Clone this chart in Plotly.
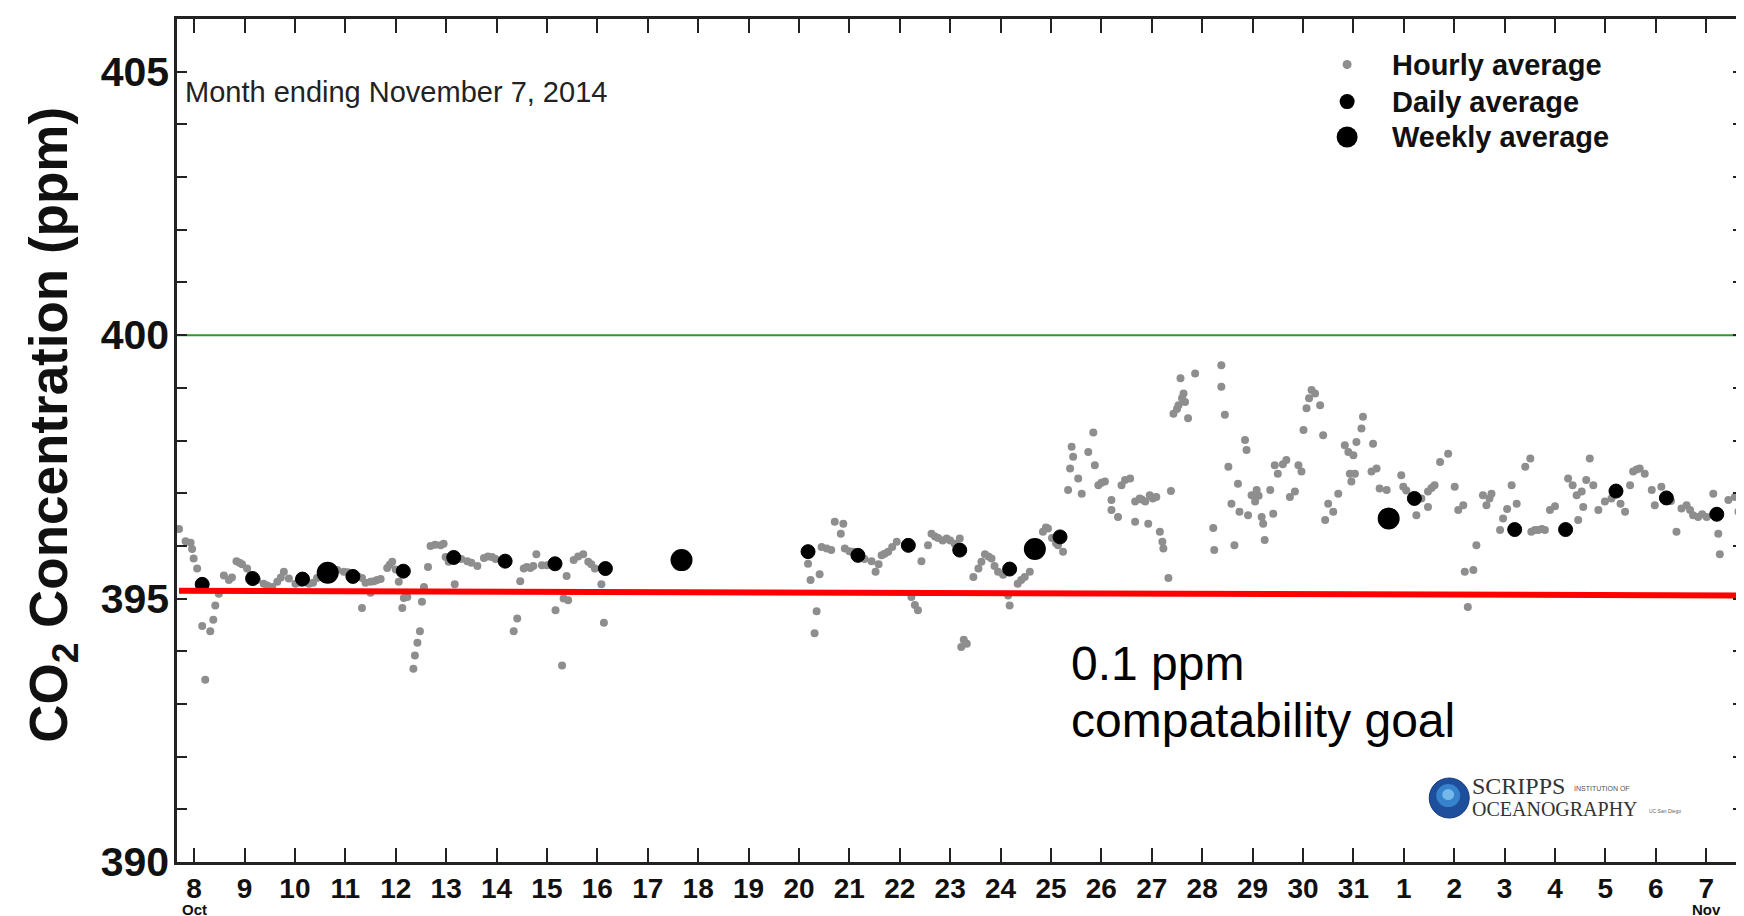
import plotly.graph_objects as go

# ---------------- data (days since Oct 8, 2014 00:00) ----------------
hourly_day = [
    -0.30, -0.17, -0.07, -0.04, -0.01, 0.06, 0.16, 0.22, 0.32, 0.38, 0.42, 0.49, 0.59, 0.69, 0.75,
    0.84, 0.90, 0.95, 1.05, 1.12, 1.25, 1.38, 1.45, 1.55, 1.65, 1.72, 1.78, 1.88, 2.01, 2.12,
    2.20, 2.28, 2.36, 2.44, 2.52, 2.60, 2.70, 2.77, 2.84, 2.97, 3.05, 3.18, 3.25, 3.33, 3.33,
    3.40, 3.50, 3.50, 3.57, 3.63, 3.70, 3.83, 3.88, 3.93, 4.00, 4.06, 4.13, 4.16, 4.23, 4.35,
    4.38, 4.43, 4.48, 4.52, 4.56, 4.64, 4.69, 4.78, 4.89, 4.95, 4.99, 5.05, 5.17, 5.30, 5.42,
    5.50, 5.62, 5.75, 5.83, 5.91, 5.98, 6.34, 6.41, 6.47, 6.54, 6.60, 6.67, 6.73, 6.79, 6.90,
    7.00, 7.08, 7.17, 7.30, 7.33, 7.39, 7.42, 7.53, 7.62, 7.72, 7.82, 7.88, 7.95, 8.08, 8.13,
    12.18, 12.23, 12.31, 12.35, 12.41, 12.45, 12.55, 12.64, 12.71, 12.83, 12.88, 12.91, 13.00, 13.07, 13.20,
    13.30, 13.44, 13.52, 13.58, 13.64, 13.70, 13.77, 13.85, 13.94, 14.23, 14.30, 14.36, 14.43, 14.56, 14.63,
    14.70, 14.76, 14.85, 14.93, 15.00, 15.09, 15.19, 15.22, 15.27, 15.33, 15.46, 15.56, 15.62, 15.69, 15.76,
    15.82, 15.88, 15.95, 16.05, 16.15, 16.18, 16.34, 16.41, 16.48, 16.58, 16.84, 16.90, 16.94, 17.02, 17.10,
    17.14, 17.24, 17.34, 17.38, 17.41, 17.44, 17.54, 17.61, 17.74, 17.84, 17.87, 17.94, 18.00, 18.07, 18.20,
    18.20, 18.33, 18.40, 18.47, 18.57, 18.67, 18.67, 18.76, 18.80, 18.87, 18.93, 18.96, 19.02, 19.09, 19.16,
    19.21, 19.23, 19.33, 19.38, 19.43, 19.50, 19.53, 19.57, 19.60, 19.63, 19.66, 19.72, 19.86, 20.22, 20.24,
    20.38, 20.38, 20.45, 20.52, 20.58, 20.64, 20.71, 20.74, 20.85, 20.88, 20.91, 20.98, 21.05, 21.08, 21.12,
    21.18, 21.21, 21.24, 21.35, 21.41, 21.44, 21.50, 21.60, 21.67, 21.74, 21.84, 21.91, 21.97, 22.01, 22.07,
    22.12, 22.17, 22.24, 22.34, 22.40, 22.44, 22.50, 22.60, 22.70, 22.83, 22.90, 22.93, 22.96, 23.00, 23.03,
    23.06, 23.16, 23.19, 23.36, 23.39, 23.46, 23.52, 23.66, 23.95, 23.99, 24.05, 24.25, 24.35, 24.48, 24.48,
    24.55, 24.61, 24.72, 24.88, 25.01, 25.08, 25.18, 25.21, 25.27, 25.38, 25.44, 25.57, 25.64, 25.70, 25.74,
    25.91, 25.97, 26.05, 26.14, 26.24, 26.41, 26.51, 26.53, 26.60, 26.67, 26.74, 26.80, 26.90, 27.00, 27.26,
    27.35, 27.43, 27.46, 27.53, 27.56, 27.62, 27.69, 27.76, 27.86, 27.99, 28.12, 28.30, 28.39, 28.49, 28.55,
    28.62, 28.68, 28.78, 28.92, 28.98, 29.11, 29.30, 29.41, 29.51, 29.61, 29.68, 29.74, 29.84, 29.92, 30.01,
    30.14, 30.24, 30.27, 30.44, 30.57, 30.64, 30.70,
]
hourly_ppm = [
    396.32, 396.09, 396.06, 395.94, 395.76, 395.57, 394.48, 393.46, 394.38, 394.60, 394.87, 395.09, 395.44, 395.35, 395.40,
    395.71, 395.68, 395.65, 395.57, 395.45, 395.35, 395.28, 395.25, 395.22, 395.32, 395.40, 395.51, 395.38, 395.28, 395.30,
    395.32, 395.28, 395.30, 395.39, 395.42, 395.48, 395.52, 395.55, 395.54, 395.51, 395.50, 395.45, 395.42, 395.39, 394.82,
    395.30, 395.32, 395.11, 395.33, 395.35, 395.37, 395.58, 395.64, 395.70, 395.55, 395.32, 394.82, 395.01, 395.03, 393.67,
    393.92, 394.16, 394.38, 394.94, 395.22, 395.60, 396.00, 396.02, 396.01, 396.04, 395.79, 395.70, 395.27, 395.75, 395.71,
    395.68, 395.62, 395.77, 395.80, 395.79, 395.75, 394.38, 394.62, 395.33, 395.57, 395.60, 395.58, 395.62, 395.84, 395.63,
    395.63, 395.65, 394.78, 393.73, 395.00, 395.43, 394.97, 395.73, 395.80, 395.84, 395.70, 395.65, 395.57, 395.27, 394.54,
    395.66, 395.35, 394.34, 394.76, 395.46, 395.98, 395.95, 395.92, 396.46, 396.23, 396.42, 395.95, 395.90, 395.89, 395.80,
    395.75, 395.71, 395.51, 395.65, 395.82, 395.85, 395.89, 395.98, 396.08, 395.03, 394.88, 394.78, 395.71, 396.01, 396.23,
    396.18, 396.15, 396.10, 396.14, 396.10, 396.04, 396.14, 394.08, 394.22, 394.14, 395.41, 395.57, 395.70, 395.84, 395.80,
    395.76, 395.62, 395.51, 395.45, 395.06, 394.87, 395.28, 395.35, 395.41, 395.51, 396.27, 396.35, 396.33, 396.15, 396.05,
    396.01, 395.89, 397.06, 397.47, 397.88, 397.69, 397.28, 396.99, 397.78, 398.15, 397.53, 397.15, 397.20, 397.22, 396.87,
    396.68, 396.55, 397.15, 397.25, 397.28, 396.84, 396.46, 396.90, 396.88, 396.84, 396.42, 396.96, 396.90, 396.93, 396.27,
    396.08, 395.95, 395.39, 397.04, 398.51, 398.60, 398.67, 399.18, 398.80, 398.89, 398.73, 398.42, 399.27, 396.34, 395.92,
    399.43, 399.02, 398.49, 397.50, 396.80, 396.01, 397.18, 396.65, 398.01, 397.82, 396.58, 396.96, 396.84, 397.06, 396.95,
    396.55, 396.42, 396.11, 397.06, 396.61, 397.53, 397.37, 397.55, 397.63, 396.93, 397.03, 397.53, 397.41, 398.20, 398.61,
    398.80, 398.96, 398.89, 398.67, 398.10, 396.49, 396.80, 396.65, 396.99, 397.91, 397.78, 397.37, 397.22, 397.72, 397.37,
    397.97, 398.23, 398.45, 397.41, 397.94, 397.47, 397.09, 397.06, 397.34, 397.12, 397.05, 396.58, 396.90, 396.74, 397.03,
    397.10, 397.15, 397.59, 397.75, 397.12, 396.68, 396.77, 395.51, 394.84, 395.54, 396.01, 396.96, 396.77, 396.90, 396.99,
    396.30, 396.52, 396.70, 397.15, 396.80, 397.50, 397.66, 396.27, 396.30, 396.30, 396.32, 396.30, 396.68, 396.75, 397.28,
    397.15, 396.96, 396.49, 397.03, 396.74, 397.25, 397.66, 397.15, 396.68, 396.84, 396.90, 396.80, 396.65, 397.15, 397.41,
    397.45, 397.47, 397.37, 397.06, 396.77, 397.12, 396.85, 396.27, 396.71, 396.77, 396.68, 396.58, 396.55, 396.60, 396.55,
    396.99, 396.23, 395.84, 396.87, 396.93, 396.65, 397.00,
]

daily_day = [0.16, 1.16, 2.15, 3.15, 4.15, 5.15, 6.17, 7.16, 8.16,
             12.18, 13.17, 14.17, 15.19, 16.18, 17.18,
             24.21, 26.20, 27.21, 28.21, 29.21, 30.21]
daily_ppm = [395.27, 395.38, 395.37, 395.42, 395.52, 395.78, 395.71, 395.66, 395.57,
             395.89, 395.82, 396.01, 395.92, 395.56, 396.17,
             396.90, 396.31, 396.31, 397.04, 396.91, 396.60]

weekly_day = [2.65, 9.67, 16.68, 23.70]
weekly_ppm = [395.49, 395.73, 395.94, 396.52]

goal_day = [-0.30, 30.73]
goal_ppm = [395.15, 395.06]
ref_level = 400

tick_days = list(range(0, 31))
tick_labels = [str(d) for d in range(8, 32)] + [str(d) for d in range(1, 8)]
y_tickvals = list(range(390, 406))
y_ticktext = [str(v) if v % 5 == 0 else "" for v in y_tickvals]

legend_names = ["Hourly average", "Daily average", "Weekly average"]
legend_colors = ["#8e8e8e", "#000000", "#000000"]
legend_diam = [9, 15, 21]

FONT = "Liberation Sans Narrow, Arial Narrow, Liberation Sans, Arial, sans-serif"
SANS = "Liberation Sans, Arial, sans-serif"
SERIF = "Liberation Serif, Times New Roman, serif"

fig = go.Figure()

fig.add_trace(go.Scatter(
    x=hourly_day, y=hourly_ppm, mode="markers", name=legend_names[0],
    marker=dict(size=8, color=legend_colors[0])))
fig.add_trace(go.Scatter(
    x=daily_day, y=daily_ppm, mode="markers", name=legend_names[1],
    marker=dict(size=14, color="black", line=dict(color="black", width=1))))
fig.add_trace(go.Scatter(
    x=weekly_day, y=weekly_ppm, mode="markers", name=legend_names[2],
    marker=dict(size=18, color="black", line=dict(color="black", width=4))))
fig.add_trace(go.Scatter(
    x=goal_day, y=goal_ppm, mode="lines", name="0.1 ppm goal",
    line=dict(color="#ff0000", width=6)))

# legend keys: drawn on a hidden overlay axis spanning [0, 1] of the plot area
legend_y = [0.946, 0.902, 0.860]
key_x = 0.7472
label_x = 0.7745
fig.add_trace(go.Scatter(
    x=[key_x] * len(legend_names), y=legend_y, mode="markers",
    xaxis="x2", yaxis="y2", hoverinfo="skip", showlegend=False,
    marker=dict(size=legend_diam, color=legend_colors, opacity=1, line=dict(width=0)),
    cliponaxis=False))

fig.add_shape(type="line", xref="paper", yref="y", x0=0, x1=1, y0=ref_level, y1=ref_level,
              line=dict(color="#2e9a2e", width=2), layer="below")

annotations = []
for name, yy in zip(legend_names, legend_y):
    annotations.append(dict(text=name, xref="paper", yref="paper", x=label_x, y=yy,
                            xanchor="left", yanchor="middle", showarrow=False,
                            font=dict(family=SANS, size=29, color="#111", weight="bold")))

annotations += [
    dict(text="CO<sub>2</sub> Concentration (ppm)", xref="paper", yref="paper",
         x=-0.0795, y=0.518, xanchor="center", yanchor="middle", textangle=-90,
         showarrow=False,
         font=dict(family=FONT, size=53, color="#111", weight="bold")),
    dict(text="Month ending November 7, 2014", xref="paper", yref="paper",
         x=0.004, y=0.913, xanchor="left", yanchor="middle", showarrow=False,
         font=dict(family=FONT, size=29, color="#222")),
    dict(text="0.1 ppm", xref="x", yref="y", x=17.35, y=393.77,
         xanchor="left", yanchor="middle", showarrow=False,
         font=dict(family=SANS, size=48, color="#000")),
    dict(text="compatability goal", xref="x", yref="y", x=17.35, y=392.68,
         xanchor="left", yanchor="middle", showarrow=False,
         font=dict(family=SANS, size=48, color="#000")),
    dict(text="<b>Oct</b>", xref="x", yref="paper", x=0, y=-0.056,
         xanchor="center", yanchor="middle", showarrow=False,
         font=dict(family=FONT, size=15, color="#111")),
    dict(text="<b>Nov</b>", xref="x", yref="paper", x=30, y=-0.056,
         xanchor="center", yanchor="middle", showarrow=False,
         font=dict(family=FONT, size=15, color="#111")),
    dict(text="SCRIPPS", xref="paper", yref="paper", x=0.8255, y=0.090,
         xanchor="left", yanchor="middle", showarrow=False,
         font=dict(family=SERIF, size=24, color="#333")),
    dict(text="INSTITUTION OF", xref="paper", yref="paper", x=0.8905, y=0.087,
         xanchor="left", yanchor="middle", showarrow=False,
         font=dict(family=SANS, size=7, color="#555")),
    dict(text="OCEANOGRAPHY", xref="paper", yref="paper", x=0.8255, y=0.063,
         xanchor="left", yanchor="middle", showarrow=False,
         font=dict(family=SERIF, size=20, color="#333")),
    dict(text="UC San Diego", xref="paper", yref="paper", x=0.9385, y=0.060,
         xanchor="left", yanchor="middle", showarrow=False,
         font=dict(family=SANS, size=5, color="#666")),
]

logo_x, logo_y = 0.8124, 0.0759
shapes = [
    dict(type="circle", xref="paper", yref="paper", xsizemode="pixel", ysizemode="pixel",
         xanchor=logo_x, yanchor=logo_y, x0=-20, x1=20, y0=-20, y1=20,
         fillcolor="#1d4f9c", line=dict(color="#163c7a", width=1), layer="above"),
    dict(type="circle", xref="paper", yref="paper", xsizemode="pixel", ysizemode="pixel",
         xanchor=logo_x, yanchor=logo_y, x0=-13, x1=11, y0=-9, y1=14,
         fillcolor="#3f8fd8", line=dict(width=0), opacity=0.8, layer="above"),
    dict(type="circle", xref="paper", yref="paper", xsizemode="pixel", ysizemode="pixel",
         xanchor=logo_x, yanchor=logo_y, x0=-7, x1=5, y0=-2, y1=9,
         fillcolor="#8fd0f5", line=dict(width=0), opacity=0.7, layer="above"),
]
for s in shapes:
    fig.add_shape(**s)

fig.update_layout(
    width=1744, height=916,
    margin=dict(l=169, r=9, t=11, b=62, autoexpand=False),
    paper_bgcolor="white", plot_bgcolor="white",
    showlegend=False,
    xaxis=dict(
        range=[-0.34, 30.73], tickmode="array", tickvals=tick_days, ticktext=tick_labels,
        ticks="inside", ticklen=14, tickwidth=2, tickcolor="#222",
        showline=True, linewidth=2.5, linecolor="#222", mirror="ticks",
        showgrid=False, zeroline=False, ticklabelstandoff=0,
        tickfont=dict(family=FONT, size=28, color="#111", weight="bold"),
    ),
    yaxis=dict(
        range=[390, 406], tickmode="array", tickvals=y_tickvals, ticktext=y_ticktext,
        ticks="inside", ticklen=10, tickwidth=2, tickcolor="#222",
        showline=True, linewidth=2.5, linecolor="#222", mirror="ticks",
        showgrid=False, zeroline=False, ticklabelstandoff=-3,
        tickfont=dict(family=FONT, size=41, color="#111", weight="bold"),
    ),
    xaxis2=dict(overlaying="x", range=[0, 1], visible=False, fixedrange=True),
    yaxis2=dict(overlaying="y", range=[0, 1], visible=False, fixedrange=True),
    annotations=annotations,
)

fig.write_html("out.html")
